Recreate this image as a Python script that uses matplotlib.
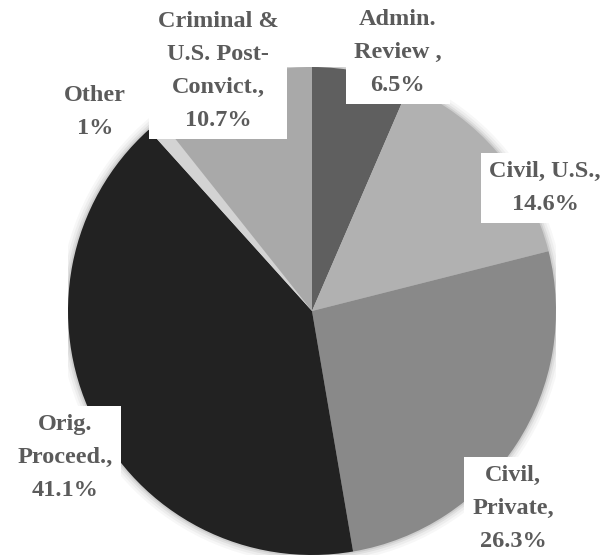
import matplotlib.pyplot as plt
from matplotlib.patches import Circle

# pie data (clockwise from 12 o'clock)
labels = ["Admin.\nReview ,\n6.5%", "Civil, U.S.,\n14.6%", "Civil,\nPrivate,\n26.3%",
          "Orig.\nProceed.,\n41.1%", "Other\n1%", "Criminal &\nU.S. Post-\nConvict.,\n10.7%"]
shares = [6.5, 14.6, 26.3, 41.1, 1.0, 10.7]
colors = ["#5f5f5f", "#b1b1b1", "#898989", "#222222", "#d3d3d3", "#a9a9a9"]
# label centres in axes data units
label_pos = [(0.352, 1.06), (0.955, 0.505), (0.824, -0.81),
             (-1.012, -0.6), (-0.889, 0.815), (-0.385, 0.985)]
boxed = [True, True, True, True, False, True]

fig = plt.figure(figsize=(6.10, 5.59), dpi=100)
# pie centre at (312, 311) px, radius 244 px
ax = fig.add_axes([(312 - 244) / 610, (559 - 555) / 559, 488 / 610, 488 / 559])

# soft shadow round the pie
for r, a in [(1.035, 0.03), (1.025, 0.04), (1.015, 0.06), (1.007, 0.08)]:
    ax.add_patch(Circle((0, 0), r, color="black", alpha=a, lw=0, zorder=0))

ax.pie(shares, colors=colors, startangle=90, counterclock=False, radius=1,
       wedgeprops=dict(linewidth=0), frame=True)
ax.set_xlim(-1, 1)
ax.set_ylim(-1, 1)
ax.set_aspect("equal")
ax.axis("off")

for lab, (x, y), b in zip(labels, label_pos, boxed):
    bbox = dict(facecolor="white", edgecolor="none", pad=6) if b else None
    ax.text(x, y, lab, ha="center", va="center", fontsize=17.5, fontweight="bold",
            family="Liberation Serif", color="#5b5b5b", linespacing=1.75,
            bbox=bbox, clip_on=False, zorder=5)

fig.savefig("out.png", dpi=100)
